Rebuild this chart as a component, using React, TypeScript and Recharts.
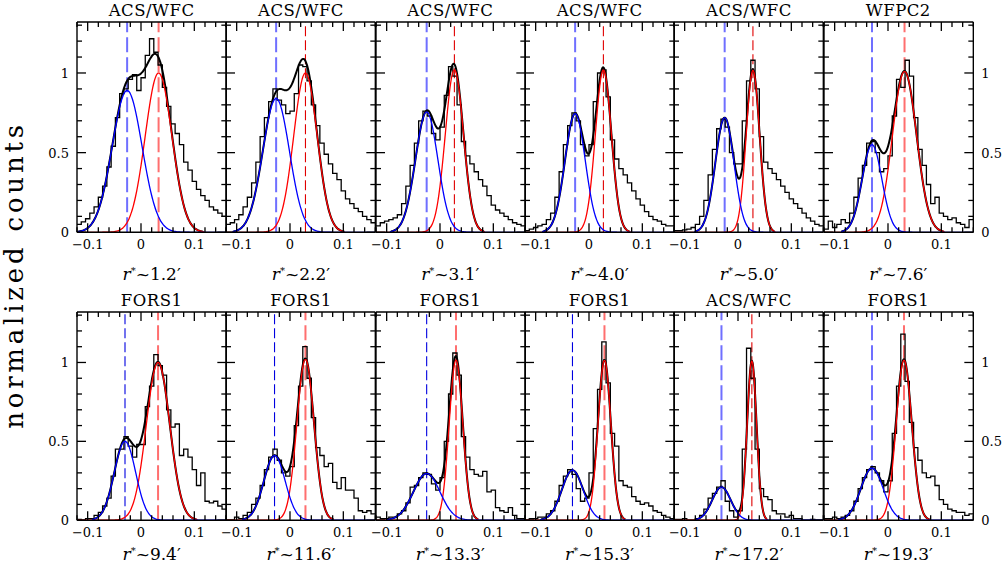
import React from 'react';
import { ComposedChart, Line, XAxis, YAxis, ReferenceLine } from 'recharts';

// panel titles and radii (row 1 then row 2)
const instruments = ['ACS/WFC', 'ACS/WFC', 'ACS/WFC', 'ACS/WFC', 'ACS/WFC', 'WFPC2', 'FORS1', 'FORS1', 'FORS1', 'FORS1', 'ACS/WFC', 'FORS1'];
const radii = ['1.2', '2.2', '3.1', '4.0', '5.0', '7.6', '9.4', '11.6', '13.3', '15.3', '17.2', '19.3'];

// histogram bins start at -0.12, width 0.008 (35 bins)
const binStart = -0.12;
const binWidth = 0.008;

const hist1 = [0.05, 0.065, 0.085, 0.12, 0.16, 0.22, 0.29, 0.41, 0.54, 0.72, 0.87, 0.9, 0.96, 0.99, 0.89, 0.97, 1.11, 1.215, 1.13, 1.05, 0.91, 0.79, 0.68, 0.62, 0.55, 0.44, 0.39, 0.32, 0.27, 0.23, 0.2, 0.16, 0.14, 0.12, 0.1];
const hist2 = [0.05, 0.06, 0.08, 0.11, 0.16, 0.22, 0.31, 0.44, 0.6, 0.72, 0.82, 0.9, 0.83, 0.8, 0.745, 0.76, 0.87, 1.05, 1.04, 0.95, 0.8, 0.67, 0.56, 0.49, 0.43, 0.37, 0.33, 0.26, 0.21, 0.18, 0.15, 0.13, 0.1, 0.08, 0.06];
const hist3 = [0.04, 0.06, 0.07, 0.08, 0.09, 0.11, 0.18, 0.29, 0.42, 0.56, 0.7, 0.76, 0.73, 0.62, 0.58, 0.66, 0.86, 1.04, 0.98, 0.8, 0.57, 0.48, 0.43, 0.38, 0.33, 0.29, 0.23, 0.17, 0.14, 0.12, 0.1, 0.08, 0.06, 0.05, 0.04];
const hist4 = [0.01, 0.02, 0.03, 0.04, 0.05, 0.08, 0.12, 0.22, 0.38, 0.55, 0.67, 0.75, 0.7, 0.55, 0.48, 0.55, 0.82, 1.0, 1.02, 0.85, 0.58, 0.46, 0.4, 0.36, 0.31, 0.26, 0.21, 0.17, 0.13, 0.1, 0.08, 0.07, 0.05, 0.04, 0.04];
const hist5 = [0.01, 0.01, 0.015, 0.02, 0.03, 0.05, 0.1, 0.2, 0.36, 0.52, 0.65, 0.71, 0.66, 0.5, 0.43, 0.43, 0.7, 0.95, 1.08, 0.9, 0.6, 0.44, 0.4, 0.37, 0.33, 0.29, 0.25, 0.21, 0.18, 0.15, 0.12, 0.09, 0.07, 0.05, 0.04];
const hist6 = [0.02, 0.07, 0.03, 0.05, 0.08, 0.06, 0.12, 0.22, 0.34, 0.42, 0.56, 0.57, 0.5, 0.38, 0.4, 0.48, 0.73, 0.96, 0.91, 1.08, 0.98, 0.72, 0.52, 0.42, 0.3, 0.18, 0.22, 0.12, 0.1, 0.08, 0.09, 0.06, 0.05, 0.03, 0.08];
const hist7 = [0.005, 0, 0.01, 0.01, 0.03, 0.05, 0.09, 0.14, 0.28, 0.45, 0.45, 0.53, 0.47, 0.4, 0.48, 0.48, 0.72, 0.85, 1.05, 0.98, 0.92, 0.7, 0.59, 0.61, 0.41, 0.45, 0.4, 0.32, 0.22, 0.3, 0.12, 0.11, 0.12, 0.09, 0.07];
const hist8 = [0, 0, 0.02, 0.01, 0.03, 0.05, 0.1, 0.14, 0.22, 0.32, 0.4, 0.45, 0.38, 0.3, 0.28, 0.34, 0.6, 0.85, 1.1, 0.9, 0.65, 0.46, 0.41, 0.34, 0.36, 0.24, 0.2, 0.27, 0.19, 0.19, 0.14, 0.06, 0.05, 0.06, 0.04];
const hist9 = [0.02, 0.01, 0.01, 0.02, 0.02, 0.04, 0.06, 0.11, 0.21, 0.22, 0.27, 0.3, 0.29, 0.23, 0.19, 0.27, 0.5, 0.8, 1.06, 0.92, 0.53, 0.4, 0.32, 0.29, 0.28, 0.31, 0.18, 0.19, 0.08, 0.06, 0.05, 0.08, 0.03, 0.01, 0.01];
const hist10 = [0, 0.01, 0.01, 0.02, 0.02, 0.04, 0.06, 0.12, 0.22, 0.28, 0.32, 0.29, 0.2, 0.12, 0.14, 0.3, 0.58, 0.83, 1.13, 0.87, 0.55, 0.47, 0.25, 0.22, 0.21, 0.15, 0.12, 0.1, 0.11, 0.09, 0.06, 0.05, 0.03, 0.02, 0.01];
const hist11 = [0.005, 0.005, 0.01, 0, 0, 0.01, 0.03, 0.07, 0.14, 0.17, 0.21, 0.25, 0.12, 0.06, 0.02, 0.06, 0.45, 1.09, 0.9, 0.45, 0.2, 0.15, 0.13, 0.06, 0.04, 0.04, 0.02, 0.03, 0.01, 0.01, 0, 0, 0.005, 0, 0];
const hist12 = [0.01, 0.01, 0.02, 0.01, 0.02, 0.03, 0.06, 0.12, 0.2, 0.27, 0.32, 0.34, 0.3, 0.25, 0.18, 0.25, 0.55, 0.85, 1.18, 0.88, 0.62, 0.46, 0.38, 0.3, 0.27, 0.28, 0.22, 0.13, 0.1, 0.07, 0.06, 0.05, 0.05, 0.03, 0.04];
const histograms = [hist1, hist2, hist3, hist4, hist5, hist6, hist7, hist8, hist9, hist10, hist11, hist12];

// fitted gaussian components (blue = metal-poor, red = metal-rich)
const blueCenter = [-0.026, -0.026, -0.025, -0.026, -0.025, -0.03, -0.03, -0.029, -0.025, -0.031, -0.031, -0.03];
const blueSigma = [0.028, 0.025, 0.021, 0.019, 0.0175, 0.0185, 0.02, 0.02, 0.025, 0.02, 0.0174, 0.021];
const blueAmp = [0.89, 0.84, 0.755, 0.745, 0.72, 0.55, 0.5, 0.41, 0.296, 0.317, 0.21, 0.33];
const redCenter = [0.033, 0.029, 0.027, 0.027, 0.028, 0.031, 0.032, 0.029, 0.03, 0.029, 0.026, 0.03];
const redSigma = [0.025, 0.022, 0.017, 0.015, 0.0125, 0.0225, 0.022, 0.016, 0.0127, 0.012, 0.0088, 0.0146];
const redAmp = [1.0, 1.0, 1.02, 1.02, 1.017, 1.01, 1.0, 1.02, 1.015, 1.015, 1.01, 1.015];

// dashed marker style per panel
const blueDash = ['light', 'light', 'light', 'light', 'light', 'light', 'dark', 'dark', 'dark', 'dark', 'light', 'light'];
const redDash = ['light', 'dark', 'dark', 'dark', 'dark', 'light', 'light', 'light', 'light', 'light', 'dark', 'light'];

const xTicks = [-0.12, -0.1, -0.08, -0.06, -0.04, -0.02, 0, 0.02, 0.04, 0.06, 0.08, 0.1, 0.12, 0.14, 0.16];
const yTicks = [0, 0.1, 0.2, 0.3, 0.4, 0.5, 0.6, 0.7, 0.8, 0.9, 1, 1.1, 1.2, 1.3];

const X_DOMAIN: [number, number] = [-0.12, 0.16];
const Y_DOMAIN: [number, number] = [0, 1.32];

const PANEL_W = 149.33;
const LEFT0 = 77;
const ROW_TOP = [21.7, 311.8];
const ROW_H = [210.3, 208.2];
const M = { top: 6, right: 45, bottom: 32, left: 45 };
const AX = 1; // axis band size
const FONT = '"DejaVu Serif", serif';

const gauss = (x: number, c: number, s: number, a: number) => a * Math.exp(-0.5 * ((x - c) / s) ** 2);

const buildData = (p: number) => {
  const hist = histograms[p];
  const rows = [];
  const sub = Math.round(binWidth / 0.002);
  for (let i = 0; i <= 140; i++) {
    const x = Math.round((binStart + i * 0.002) * 10000) / 10000;
    const b = gauss(x, blueCenter[p], blueSigma[p], blueAmp[p]);
    const r = gauss(x, redCenter[p], redSigma[p], redAmp[p]);
    const s = b + r;
    let h: number | null = null;
    if (i % sub === 0) {
      const k = Math.min(i / sub, hist.length - 1);
      h = hist[k];
    }
    rows.push({
      x,
      h,
      b: x < blueCenter[p] && b < 0.003 ? null : b,
      r: x > redCenter[p] && r < 0.003 ? null : r,
      s: s < 0.004 ? null : s,
    });
  }
  return rows;
};

const isMajorX = (v: number) => Math.abs(v * 10 - Math.round(v * 10)) < 1e-6;
const isMajorY = (v: number) => Math.abs(v * 2 - Math.round(v * 2)) < 1e-6;
const fmt = (v: number) => (v < 0 ? '\u2212' + Math.abs(v) : String(v));

const BottomTick = (props: any) => {
  const { x, y, payload } = props;
  const v = payload.value;
  const major = isMajorX(v);
  const len = major ? 9 : 5;
  return (
    <g>
      <line x1={x} x2={x} y1={y} y2={y - len} stroke="#000" strokeWidth={1.3} />
      {major && (
        <text x={x} y={y + 17} textAnchor="middle" fontSize={13} fontFamily={FONT} fill="#000">
          {fmt(v)}
        </text>
      )}
    </g>
  );
};

const TopTick = (props: any) => {
  const { x, y, payload } = props;
  const len = isMajorX(payload.value) ? 9 : 5;
  return <line x1={x} x2={x} y1={y} y2={y + len} stroke="#000" strokeWidth={1.3} />;
};

const makeSideTick = (side: 'left' | 'right', showLabel: boolean) => (props: any) => {
  const { x, y, payload } = props;
  const v = payload.value;
  const major = isMajorY(v);
  const len = major ? 9 : 5;
  const dir = side === 'left' ? 1 : -1;
  return (
    <g>
      <line x1={x} x2={x + dir * len} y1={y} y2={y} stroke="#000" strokeWidth={1.3} />
      {showLabel && major && v <= 1 && (
        <text
          x={side === 'left' ? x - 8 : x + 8}
          y={y + 5}
          textAnchor={side === 'left' ? 'end' : 'start'}
          fontSize={13}
          fontFamily={FONT}
          fill="#000"
        >
          {v}
        </text>
      )}
    </g>
  );
};

const dashStyle = (kind: string, color: 'blue' | 'red') => {
  if (kind === 'light') {
    return { stroke: color === 'blue' ? '#6f6fff' : '#ff6f6f', strokeWidth: 2, strokeDasharray: '15 5' };
  }
  return { stroke: color === 'blue' ? '#0000e0' : '#e00000', strokeWidth: 1.1, strokeDasharray: '10 4' };
};

const Panel = ({ p }: { p: number }) => {
  const row = p < 6 ? 0 : 1;
  const col = p % 6;
  const plotLeft = LEFT0 + col * PANEL_W;
  const plotTop = ROW_TOP[row];
  const plotH = ROW_H[row];
  const data = buildData(p);
  const bd = dashStyle(blueDash[p], 'blue');
  const rd = dashStyle(redDash[p], 'red');
  const axisLine = { stroke: '#000', strokeWidth: 1.4 };
  return (
    <>
      <div
        style={{
          position: 'absolute',
          left: plotLeft - M.left - AX,
          top: plotTop - M.top - AX,
        }}
      >
        <ComposedChart
          width={PANEL_W + M.left + M.right + 2 * AX}
          height={plotH + M.top + M.bottom + 2 * AX}
          data={data}
          margin={M}
        >
          <XAxis
            dataKey="x"
            type="number"
            domain={X_DOMAIN}
            ticks={xTicks}
            interval={0}
            allowDataOverflow
            height={AX}
            tickSize={0}
            tickMargin={0}
            axisLine={axisLine}
            tickLine={false}
            tick={BottomTick}
          />
          <XAxis
            xAxisId="top"
            orientation="top"
            dataKey="x"
            type="number"
            domain={X_DOMAIN}
            ticks={xTicks}
            interval={0}
            allowDataOverflow
            height={AX}
            tickSize={0}
            tickMargin={0}
            axisLine={axisLine}
            tickLine={false}
            tick={TopTick}
          />
          <YAxis
            type="number"
            domain={Y_DOMAIN}
            ticks={yTicks}
            interval={0}
            allowDataOverflow
            width={AX}
            tickSize={0}
            tickMargin={0}
            axisLine={axisLine}
            tickLine={false}
            tick={makeSideTick('left', col === 0)}
          />
          <YAxis
            yAxisId="right"
            orientation="right"
            type="number"
            domain={Y_DOMAIN}
            ticks={yTicks}
            interval={0}
            allowDataOverflow
            width={AX}
            tickSize={0}
            tickMargin={0}
            axisLine={axisLine}
            tickLine={false}
            tick={makeSideTick('right', col === 5)}
          />
          <ReferenceLine x={blueCenter[p]} {...bd} />
          <ReferenceLine x={redCenter[p]} {...rd} />
          <Line dataKey="h" type="stepAfter" stroke="#000" strokeWidth={1.3} dot={false} connectNulls isAnimationActive={false} />
          <Line dataKey="s" type="monotone" stroke="#000" strokeWidth={2} dot={false} isAnimationActive={false} />
          <Line dataKey="r" type="monotone" stroke="#ff0000" strokeWidth={1.3} dot={false} isAnimationActive={false} />
          <Line dataKey="b" type="monotone" stroke="#0000ff" strokeWidth={1.3} dot={false} isAnimationActive={false} />
        </ComposedChart>
      </div>
      <div
        style={{
          position: 'absolute',
          left: plotLeft,
          width: PANEL_W,
          top: row === 0 ? 1.3 : 291.3,
          textAlign: 'center',
          fontFamily: FONT,
          fontSize: 16.5,
          lineHeight: '20px',
          letterSpacing: 0.5,
          whiteSpace: 'nowrap',
        }}
      >
        {instruments[p]}
      </div>
      <div
        style={{
          position: 'absolute',
          left: plotLeft,
          width: PANEL_W,
          top: row === 0 ? 263 : 542.5,
          textAlign: 'center',
          fontFamily: FONT,
          fontSize: 17,
          lineHeight: '16px',
          whiteSpace: 'nowrap',
        }}
      >
        <span style={{ fontStyle: 'italic' }}>r</span>
        <span style={{ fontSize: 10, verticalAlign: 6 }}>*</span>~{radii[p]}′
      </div>
    </>
  );
};

export default function App() {
  return (
    <div
      style={{
        position: 'absolute',
        left: 0,
        top: 0,
        width: 1003,
        height: 563,
        background: '#fff',
        overflow: 'hidden',
      }}
    >
      {instruments.map((_, p) => (
        <Panel key={p} p={p} />
      ))}
      <div
        style={{
          position: 'absolute',
          left: 14 - 170,
          top: 275 - 18,
          width: 340,
          height: 36,
          lineHeight: '36px',
          textAlign: 'center',
          transform: 'rotate(-90deg)',
          fontFamily: FONT,
          fontSize: 26,
          letterSpacing: 3.8,
          whiteSpace: 'nowrap',
        }}
      >
        normalized counts
      </div>
    </div>
  );
}
